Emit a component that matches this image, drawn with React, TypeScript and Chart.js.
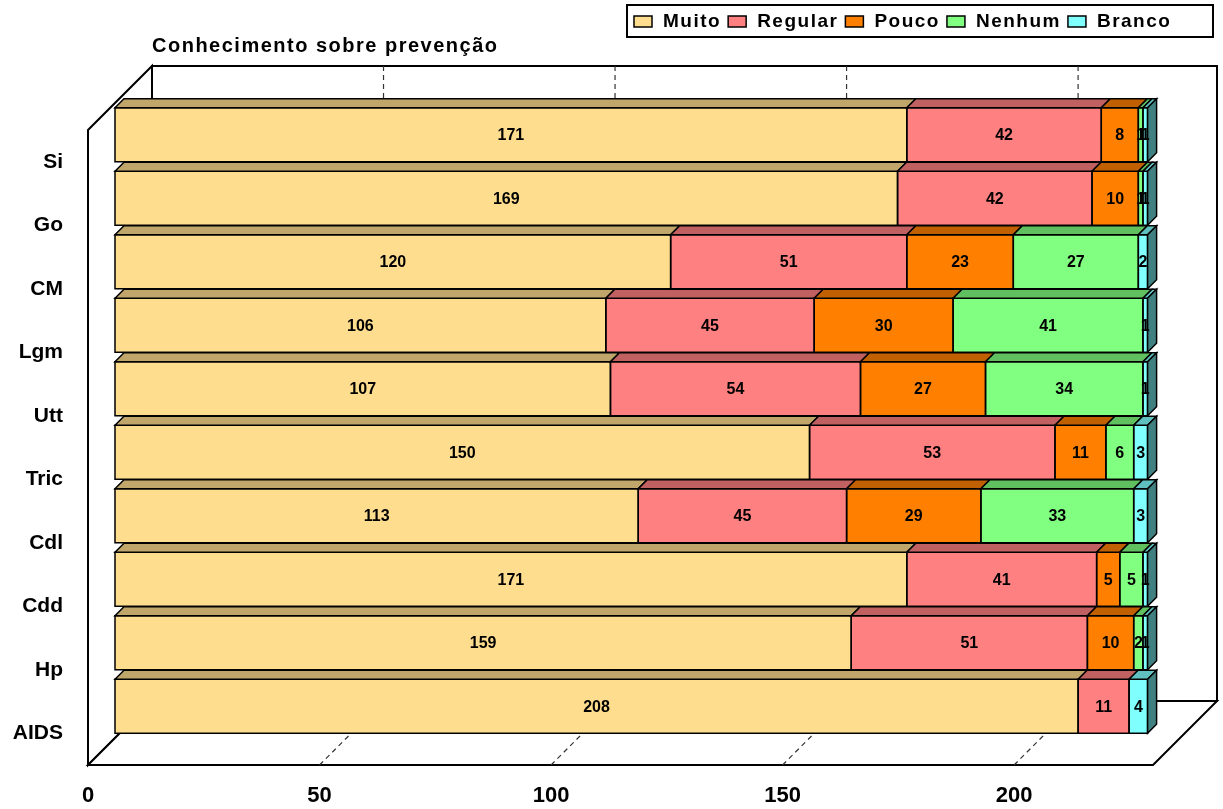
import React, { useEffect, useRef } from 'react';
import { Chart, registerables } from 'chart.js';

Chart.register(...registerables);

// Categories, top to bottom
const categories = ['Si', 'Go', 'CM', 'Lgm', 'Utt', 'Tric', 'Cdl', 'Cdd', 'Hp', 'AIDS'];

// Answers per category
const muito = [171, 169, 120, 106, 107, 150, 113, 171, 159, 208];
const regular = [42, 42, 51, 45, 54, 53, 45, 41, 51, 11];
const pouco = [8, 10, 23, 30, 27, 11, 29, 5, 10, 0];
const nenhum = [1, 1, 27, 41, 34, 6, 33, 5, 2, 0];
const branco = [1, 1, 2, 1, 1, 3, 3, 1, 1, 4];

const seriesNames = ['Muito', 'Regular', 'Pouco', 'Nenhum', 'Branco'];
const seriesValues = [muito, regular, pouco, nenhum, branco];

const xTicks = [0, 50, 100, 150, 200];
const axisMax = 230;
const chartTitle = 'Conhecimento sobre prevenção';

// Face colours: front, top (shaded) and right side (darker)
const frontColors = ['#FFDD8F', '#FF8080', '#FF8000', '#80FF80', '#80FFFF'];
const topColors = ['#C0A66B', '#C06060', '#C06000', '#60C060', '#60C0C0'];
const sideColors = ['#807048', '#804040', '#804000', '#408040', '#408080'];

const FONT = "'Liberation Sans', Arial, sans-serif";

// Oblique projection: box depth, bar front offset and bar thickness in depth
const BOX_DEPTH = 64;
const BAR_FRONT = 27;
const BAR_DEPTH = 9;

// Legend layout
const LEGEND_BOX = { x: 627, y: 5, w: 586, h: 32 };
const LEGEND_START = 634;

function poly(ctx: CanvasRenderingContext2D, pts: number[][], fill?: string, stroke = true) {
  ctx.beginPath();
  ctx.moveTo(pts[0][0], pts[0][1]);
  for (let i = 1; i < pts.length; i++) ctx.lineTo(pts[i][0], pts[i][1]);
  ctx.closePath();
  if (fill) {
    ctx.fillStyle = fill;
    ctx.fill();
  }
  if (stroke) ctx.stroke();
}

const box3d = {
  id: 'box3d',
  beforeDatasetsDraw(chart: any) {
    const { ctx, chartArea: a } = chart;
    const xs = chart.scales.x;
    const d = BOX_DEPTH;
    ctx.save();
    ctx.lineWidth = 2;
    ctx.strokeStyle = '#000';
    ctx.lineJoin = 'miter';
    // back wall
    poly(ctx, [
      [a.left + d, a.top - d],
      [a.right + d, a.top - d],
      [a.right + d, a.bottom - d],
      [a.left + d, a.bottom - d],
    ], '#fff');
    // side wall
    poly(ctx, [
      [a.left, a.top],
      [a.left + d, a.top - d],
      [a.left + d, a.bottom - d],
      [a.left, a.bottom],
    ], '#fff');
    // floor
    poly(ctx, [
      [a.left, a.bottom],
      [a.right, a.bottom],
      [a.right + d, a.bottom - d],
      [a.left + d, a.bottom - d],
    ], '#fff');
    // dashed gridlines on back wall and floor
    ctx.setLineDash([5, 4]);
    ctx.lineWidth = 1.2;
    ctx.strokeStyle = '#333';
    xTicks.forEach((v) => {
      if (v === 0) return;
      const px = xs.getPixelForValue(v);
      ctx.beginPath();
      ctx.moveTo(px + d, a.top - d);
      ctx.lineTo(px + d, a.bottom - d);
      ctx.moveTo(px, a.bottom);
      ctx.lineTo(px + d, a.bottom - d);
      ctx.stroke();
    });
    ctx.restore();
    // bars sit inside the box, shifted back along the depth axis
    ctx.save();
    ctx.translate(BAR_FRONT, -BAR_FRONT);
  },
  afterDatasetsDraw(chart: any) {
    const { ctx } = chart;
    const datasets = chart.data.datasets;
    const metas = datasets.map((_: any, i: number) => chart.getDatasetMeta(i));
    const d = BAR_DEPTH;
    ctx.lineWidth = 1.5;
    ctx.strokeStyle = '#000';
    ctx.lineJoin = 'miter';
    ctx.setLineDash([]);
    const rows = chart.data.labels.length;
    for (let r = 0; r < rows; r++) {
      let last: any = null;
      for (let s = 0; s < datasets.length; s++) {
        const v = datasets[s].data[r];
        if (!v) continue;
        const el = metas[s].data[r];
        const p = el.getProps(['x', 'y', 'base', 'height'], true);
        const x0 = Math.min(p.x, p.base);
        const x1 = Math.max(p.x, p.base);
        const top = p.y - p.height / 2;
        const bot = p.y + p.height / 2;
        ctx.strokeRect(x0, top, x1 - x0, bot - top);
        poly(ctx, [[x0, top], [x1, top], [x1 + d, top - d], [x0 + d, top - d]], topColors[s]);
        last = { s, x1, top, bot };
      }
      if (last) {
        poly(ctx, [
          [last.x1, last.top],
          [last.x1 + d, last.top - d],
          [last.x1 + d, last.bot - d],
          [last.x1, last.bot],
        ], sideColors[last.s]);
      }
    }
    // value labels on front faces
    ctx.fillStyle = '#000';
    ctx.font = `bold 16px ${FONT}`;
    ctx.textAlign = 'center';
    ctx.textBaseline = 'middle';
    for (let s = 0; s < datasets.length; s++) {
      for (let r = 0; r < rows; r++) {
        const v = datasets[s].data[r];
        if (!v) continue;
        const p = metas[s].data[r].getProps(['x', 'y', 'base'], true);
        ctx.fillText(String(v), (p.x + p.base) / 2, p.y + 1);
      }
    }
    ctx.restore();
  },
  afterDraw(chart: any) {
    const { ctx } = chart;
    ctx.save();
    // title
    ctx.fillStyle = '#000';
    ctx.font = `bold 20px ${FONT}`;
    (ctx as any).letterSpacing = '1.5px';
    ctx.textAlign = 'left';
    ctx.textBaseline = 'middle';
    ctx.fillText(chartTitle, 152, 46);
    // legend
    const b = LEGEND_BOX;
    ctx.lineWidth = 2;
    ctx.strokeStyle = '#000';
    ctx.fillStyle = '#fff';
    ctx.fillRect(b.x, b.y, b.w, b.h);
    ctx.strokeRect(b.x, b.y, b.w, b.h);
    ctx.font = `bold 19px ${FONT}`;
    (ctx as any).letterSpacing = '1.5px';
    let x = LEGEND_START;
    chart.data.datasets.forEach((ds: any, i: number) => {
      ctx.lineWidth = 1.5;
      ctx.fillStyle = frontColors[i];
      ctx.fillRect(x, 16, 18, 11);
      ctx.strokeRect(x, 16, 18, 11);
      ctx.fillStyle = '#000';
      const tx = x + 29;
      ctx.fillText(ds.label, tx, 22);
      x = tx + ctx.measureText(ds.label).width + 7;
    });
    ctx.restore();
  },
};

export default function App() {
  const ref = useRef<HTMLCanvasElement | null>(null);

  useEffect(() => {
    const canvas = ref.current;
    if (!canvas) return;
    const chart = new Chart(canvas, {
      type: 'bar',
      data: {
        labels: categories,
        datasets: seriesValues.map((vals, i) => ({
          label: seriesNames[i],
          data: vals,
          backgroundColor: frontColors[i],
          borderWidth: 0,
          barPercentage: 0.851,
          categoryPercentage: 1,
          clip: false as any,
        })),
      },
      options: {
        indexAxis: 'y',
        responsive: false,
        animation: false,
        events: [],
        layout: { padding: { top: 130, right: 70, left: 0, bottom: 0 } },
        plugins: {
          legend: { display: false },
          title: { display: false },
          tooltip: { enabled: false },
        },
        scales: {
          x: {
            stacked: true,
            min: 0,
            max: axisMax,
            grid: { display: false, drawTicks: false },
            border: { display: false },
            ticks: {
              stepSize: 50,
              includeBounds: false,
              padding: 18,
              color: '#000',
              font: { family: FONT, size: 22, weight: 'bold' },
            },
            afterFit: (s: any) => {
              s.height = 44;
            },
          },
          y: {
            stacked: true,
            grid: { display: false, drawTicks: false },
            border: { display: false },
            ticks: {
              padding: 25,
              color: '#000',
              font: { family: FONT, size: 21, weight: 'bold' },
            },
            afterFit: (s: any) => {
              s.width = 88;
            },
          },
        },
      } as any,
      plugins: [box3d],
    });
    return () => chart.destroy();
  }, []);

  return (
    <div style={{ position: 'absolute', left: 0, top: 0, width: 1223, height: 809, background: '#fff' }}>
      <canvas ref={ref} width={1223} height={809} style={{ display: 'block' }} />
    </div>
  );
}
